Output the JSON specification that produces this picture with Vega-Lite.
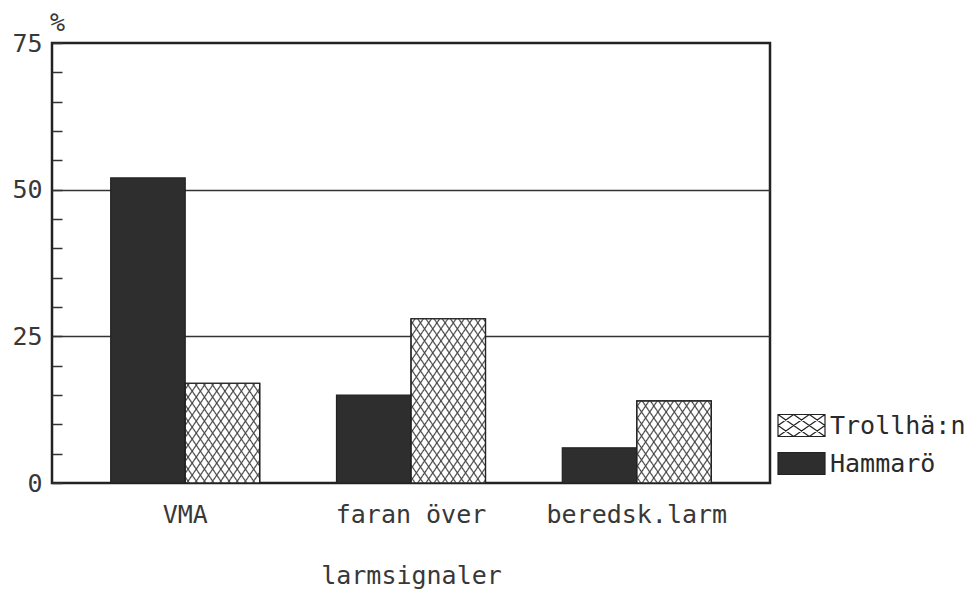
{
  "$schema": "https://vega.github.io/schema/vega-lite/v6.json",
  "width": 718,
  "height": 440,
  "autosize": {"type": "none"},
  "padding": {"left": 52, "top": 43, "right": 201, "bottom": 110},
  "background": "white",
  "config": {
    "view": {"stroke": "#222", "strokeWidth": 2.5},
    "font": "DejaVu Sans Mono"
  },
  "data": {
    "values": [
      {"larm": "VMA", "ort": "Hammarö", "procent": 52},
      {"larm": "VMA", "ort": "Trollhä:n", "procent": 17},
      {"larm": "faran över", "ort": "Hammarö", "procent": 15},
      {"larm": "faran över", "ort": "Trollhä:n", "procent": 28},
      {"larm": "beredsk.larm", "ort": "Hammarö", "procent": 6},
      {"larm": "beredsk.larm", "ort": "Trollhä:n", "procent": 14}
    ]
  },
  "encoding": {
    "x": {
      "field": "larm",
      "type": "nominal",
      "sort": ["VMA", "faran över", "beredsk.larm"],
      "scale": {"paddingInner": 0.34, "paddingOuter": 0.26},
      "axis": {
        "title": "larmsignaler",
        "labelAngle": 0,
        "labelLimit": 0,
        "ticks": false,
        "domain": false,
        "labelFont": "DejaVu Sans Mono",
        "labelFontSize": 25,
        "labelColor": "#383838",
        "labelPadding": 19,
        "titleFont": "DejaVu Sans Mono",
        "titleFontSize": 25,
        "titleFontWeight": "normal",
        "titleColor": "#383838",
        "titlePadding": 36
      }
    },
    "xOffset": {
      "field": "ort",
      "type": "nominal",
      "scale": {"domain": ["Hammarö", "Trollhä:n"], "paddingInner": 0, "paddingOuter": 0}
    },
    "y": {
      "field": "procent",
      "type": "quantitative",
      "scale": {"domain": [0, 75], "nice": false, "zero": true},
      "axis": {
        "title": "%",
        "titleAngle": 0,
        "titleX": 5,
        "titleY": -21,
        "titleAlign": "center",
        "titleBaseline": "middle",
        "titleFont": "DejaVu Sans Mono",
        "titleFontSize": 25,
        "titleFontWeight": "normal",
        "titleColor": "#383838",
        "values": [0, 5, 10, 15, 20, 25, 30, 35, 40, 45, 50, 55, 60, 65, 70, 75],
        "labelExpr": "datum.value % 25 === 0 ? datum.label : ''",
        "labelOverlap": false,
        "labelFlush": false,
        "tickSize": -10,
        "tickColor": "#333",
        "tickWidth": 1.5,
        "domain": false,
        "grid": true,
        "gridColor": "#333",
        "gridWidth": 1.3,
        "gridOpacity": {"condition": {"test": "datum.value === 25 || datum.value === 50", "value": 1}, "value": 0},
        "labelFont": "DejaVu Sans Mono",
        "labelFontSize": 25,
        "labelColor": "#383838",
        "labelPadding": 20
      }
    }
  },
  "layer": [
    {
      "mark": {"type": "bar", "stroke": "#222", "strokeWidth": 1.2},
      "encoding": {
        "fill": {
          "field": "ort",
          "type": "nominal",
          "scale": {"domain": ["Trollhä:n", "Hammarö"], "range": ["#ffffff", "#2e2e2e"]},
          "legend": {
            "title": null,
            "orient": "none",
            "legendX": 727,
            "legendY": 360,
            "padding": 0,
            "symbolSize": 1849,
            "symbolType": "M-1.093,-0.512H1.093V0.512H-1.093Z",
            "symbolStrokeColor": "#222",
            "symbolStrokeWidth": 1.2,
            "symbolOpacity": 1,
            "labelFont": "DejaVu Sans Mono",
            "labelFontSize": 25,
            "labelColor": "#2a2a2a",
            "labelOffset": 6,
            "labelLimit": 0,
            "rowPadding": 2,
            "encode": {
              "symbols": {
                "update": {
                  "shape": {"signal": "datum.value === 'Hammarö' ? 'M-1.093,-0.512H1.093V0.512H-1.093Z' : 'M-1.093,-0.512H1.093V0.512H-1.093Z M-1.093,0L-0.364,-0.512 M-1.093,0.512L0.365,-0.512 M-0.364,0.512L1.093,-0.512 M0.365,0.512L1.093,0 M1.093,0L0.364,-0.512 M1.093,0.512L-0.365,-0.512 M0.364,0.512L-1.093,-0.512 M-0.365,0.512L-1.093,0'"}
                }
              }
            }
          }
        }
      }
    },
    {
      "transform": [{"filter": "datum.ort === 'Trollhä:n'"}],
      "mark": {"type": "bar"},
      "encoding": {
        "fill": {
          "condition": [
            {"test": "datum.larm === 'VMA'", "value": {"gradient": "linear", "x1": 0, "y1": 0, "x2": 1.4382, "y2": 1.3157, "stops": [{"offset":0.0138,"color":"rgba(68,68,68,0)"},{"offset":0.0208,"color":"#444"},{"offset":0.0279,"color":"rgba(68,68,68,0)"},{"offset":0.0554,"color":"rgba(68,68,68,0)"},{"offset":0.0625,"color":"#444"},{"offset":0.0696,"color":"rgba(68,68,68,0)"},{"offset":0.0971,"color":"rgba(68,68,68,0)"},{"offset":0.1042,"color":"#444"},{"offset":0.1113,"color":"rgba(68,68,68,0)"},{"offset":0.1388,"color":"rgba(68,68,68,0)"},{"offset":0.1458,"color":"#444"},{"offset":0.1529,"color":"rgba(68,68,68,0)"},{"offset":0.1804,"color":"rgba(68,68,68,0)"},{"offset":0.1875,"color":"#444"},{"offset":0.1946,"color":"rgba(68,68,68,0)"},{"offset":0.2221,"color":"rgba(68,68,68,0)"},{"offset":0.2292,"color":"#444"},{"offset":0.2363,"color":"rgba(68,68,68,0)"},{"offset":0.2638,"color":"rgba(68,68,68,0)"},{"offset":0.2708,"color":"#444"},{"offset":0.2779,"color":"rgba(68,68,68,0)"},{"offset":0.3054,"color":"rgba(68,68,68,0)"},{"offset":0.3125,"color":"#444"},{"offset":0.3196,"color":"rgba(68,68,68,0)"},{"offset":0.3471,"color":"rgba(68,68,68,0)"},{"offset":0.3542,"color":"#444"},{"offset":0.3613,"color":"rgba(68,68,68,0)"},{"offset":0.3888,"color":"rgba(68,68,68,0)"},{"offset":0.3958,"color":"#444"},{"offset":0.4029,"color":"rgba(68,68,68,0)"},{"offset":0.4304,"color":"rgba(68,68,68,0)"},{"offset":0.4375,"color":"#444"},{"offset":0.4446,"color":"rgba(68,68,68,0)"},{"offset":0.4721,"color":"rgba(68,68,68,0)"},{"offset":0.4792,"color":"#444"},{"offset":0.4863,"color":"rgba(68,68,68,0)"},{"offset":0.5138,"color":"rgba(68,68,68,0)"},{"offset":0.5208,"color":"#444"},{"offset":0.5279,"color":"rgba(68,68,68,0)"},{"offset":0.5554,"color":"rgba(68,68,68,0)"},{"offset":0.5625,"color":"#444"},{"offset":0.5696,"color":"rgba(68,68,68,0)"},{"offset":0.5971,"color":"rgba(68,68,68,0)"},{"offset":0.6042,"color":"#444"},{"offset":0.6113,"color":"rgba(68,68,68,0)"},{"offset":0.6388,"color":"rgba(68,68,68,0)"},{"offset":0.6458,"color":"#444"},{"offset":0.6529,"color":"rgba(68,68,68,0)"},{"offset":0.6804,"color":"rgba(68,68,68,0)"},{"offset":0.6875,"color":"#444"},{"offset":0.6946,"color":"rgba(68,68,68,0)"},{"offset":0.7221,"color":"rgba(68,68,68,0)"},{"offset":0.7292,"color":"#444"},{"offset":0.7363,"color":"rgba(68,68,68,0)"},{"offset":0.7638,"color":"rgba(68,68,68,0)"},{"offset":0.7708,"color":"#444"},{"offset":0.7779,"color":"rgba(68,68,68,0)"},{"offset":0.8054,"color":"rgba(68,68,68,0)"},{"offset":0.8125,"color":"#444"},{"offset":0.8196,"color":"rgba(68,68,68,0)"},{"offset":0.8471,"color":"rgba(68,68,68,0)"},{"offset":0.8542,"color":"#444"},{"offset":0.8613,"color":"rgba(68,68,68,0)"},{"offset":0.8888,"color":"rgba(68,68,68,0)"},{"offset":0.8958,"color":"#444"},{"offset":0.9029,"color":"rgba(68,68,68,0)"},{"offset":0.9304,"color":"rgba(68,68,68,0)"},{"offset":0.9375,"color":"#444"},{"offset":0.9446,"color":"rgba(68,68,68,0)"},{"offset":0.9721,"color":"rgba(68,68,68,0)"},{"offset":0.9792,"color":"#444"},{"offset":0.9863,"color":"rgba(68,68,68,0)"}]}},
            {"test": "datum.larm === 'faran över'", "value": {"gradient": "linear", "x1": 0, "y1": 0, "x2": 0.8078, "y2": 1.2171, "stops": [{"offset":0.0138,"color":"rgba(68,68,68,0)"},{"offset":0.0208,"color":"#444"},{"offset":0.0279,"color":"rgba(68,68,68,0)"},{"offset":0.0554,"color":"rgba(68,68,68,0)"},{"offset":0.0625,"color":"#444"},{"offset":0.0696,"color":"rgba(68,68,68,0)"},{"offset":0.0971,"color":"rgba(68,68,68,0)"},{"offset":0.1042,"color":"#444"},{"offset":0.1113,"color":"rgba(68,68,68,0)"},{"offset":0.1388,"color":"rgba(68,68,68,0)"},{"offset":0.1458,"color":"#444"},{"offset":0.1529,"color":"rgba(68,68,68,0)"},{"offset":0.1804,"color":"rgba(68,68,68,0)"},{"offset":0.1875,"color":"#444"},{"offset":0.1946,"color":"rgba(68,68,68,0)"},{"offset":0.2221,"color":"rgba(68,68,68,0)"},{"offset":0.2292,"color":"#444"},{"offset":0.2363,"color":"rgba(68,68,68,0)"},{"offset":0.2638,"color":"rgba(68,68,68,0)"},{"offset":0.2708,"color":"#444"},{"offset":0.2779,"color":"rgba(68,68,68,0)"},{"offset":0.3054,"color":"rgba(68,68,68,0)"},{"offset":0.3125,"color":"#444"},{"offset":0.3196,"color":"rgba(68,68,68,0)"},{"offset":0.3471,"color":"rgba(68,68,68,0)"},{"offset":0.3542,"color":"#444"},{"offset":0.3613,"color":"rgba(68,68,68,0)"},{"offset":0.3888,"color":"rgba(68,68,68,0)"},{"offset":0.3958,"color":"#444"},{"offset":0.4029,"color":"rgba(68,68,68,0)"},{"offset":0.4304,"color":"rgba(68,68,68,0)"},{"offset":0.4375,"color":"#444"},{"offset":0.4446,"color":"rgba(68,68,68,0)"},{"offset":0.4721,"color":"rgba(68,68,68,0)"},{"offset":0.4792,"color":"#444"},{"offset":0.4863,"color":"rgba(68,68,68,0)"},{"offset":0.5138,"color":"rgba(68,68,68,0)"},{"offset":0.5208,"color":"#444"},{"offset":0.5279,"color":"rgba(68,68,68,0)"},{"offset":0.5554,"color":"rgba(68,68,68,0)"},{"offset":0.5625,"color":"#444"},{"offset":0.5696,"color":"rgba(68,68,68,0)"},{"offset":0.5971,"color":"rgba(68,68,68,0)"},{"offset":0.6042,"color":"#444"},{"offset":0.6113,"color":"rgba(68,68,68,0)"},{"offset":0.6388,"color":"rgba(68,68,68,0)"},{"offset":0.6458,"color":"#444"},{"offset":0.6529,"color":"rgba(68,68,68,0)"},{"offset":0.6804,"color":"rgba(68,68,68,0)"},{"offset":0.6875,"color":"#444"},{"offset":0.6946,"color":"rgba(68,68,68,0)"},{"offset":0.7221,"color":"rgba(68,68,68,0)"},{"offset":0.7292,"color":"#444"},{"offset":0.7363,"color":"rgba(68,68,68,0)"},{"offset":0.7638,"color":"rgba(68,68,68,0)"},{"offset":0.7708,"color":"#444"},{"offset":0.7779,"color":"rgba(68,68,68,0)"},{"offset":0.8054,"color":"rgba(68,68,68,0)"},{"offset":0.8125,"color":"#444"},{"offset":0.8196,"color":"rgba(68,68,68,0)"},{"offset":0.8471,"color":"rgba(68,68,68,0)"},{"offset":0.8542,"color":"#444"},{"offset":0.8613,"color":"rgba(68,68,68,0)"},{"offset":0.8888,"color":"rgba(68,68,68,0)"},{"offset":0.8958,"color":"#444"},{"offset":0.9029,"color":"rgba(68,68,68,0)"},{"offset":0.9304,"color":"rgba(68,68,68,0)"},{"offset":0.9375,"color":"#444"},{"offset":0.9446,"color":"rgba(68,68,68,0)"},{"offset":0.9721,"color":"rgba(68,68,68,0)"},{"offset":0.9792,"color":"#444"},{"offset":0.9863,"color":"rgba(68,68,68,0)"}]}}
          ],
          "value": {"gradient": "linear", "x1": 0, "y1": 0, "x2": 1.6852, "y2": 1.2695, "stops": [{"offset":0.0138,"color":"rgba(68,68,68,0)"},{"offset":0.0208,"color":"#444"},{"offset":0.0279,"color":"rgba(68,68,68,0)"},{"offset":0.0554,"color":"rgba(68,68,68,0)"},{"offset":0.0625,"color":"#444"},{"offset":0.0696,"color":"rgba(68,68,68,0)"},{"offset":0.0971,"color":"rgba(68,68,68,0)"},{"offset":0.1042,"color":"#444"},{"offset":0.1113,"color":"rgba(68,68,68,0)"},{"offset":0.1388,"color":"rgba(68,68,68,0)"},{"offset":0.1458,"color":"#444"},{"offset":0.1529,"color":"rgba(68,68,68,0)"},{"offset":0.1804,"color":"rgba(68,68,68,0)"},{"offset":0.1875,"color":"#444"},{"offset":0.1946,"color":"rgba(68,68,68,0)"},{"offset":0.2221,"color":"rgba(68,68,68,0)"},{"offset":0.2292,"color":"#444"},{"offset":0.2363,"color":"rgba(68,68,68,0)"},{"offset":0.2638,"color":"rgba(68,68,68,0)"},{"offset":0.2708,"color":"#444"},{"offset":0.2779,"color":"rgba(68,68,68,0)"},{"offset":0.3054,"color":"rgba(68,68,68,0)"},{"offset":0.3125,"color":"#444"},{"offset":0.3196,"color":"rgba(68,68,68,0)"},{"offset":0.3471,"color":"rgba(68,68,68,0)"},{"offset":0.3542,"color":"#444"},{"offset":0.3613,"color":"rgba(68,68,68,0)"},{"offset":0.3888,"color":"rgba(68,68,68,0)"},{"offset":0.3958,"color":"#444"},{"offset":0.4029,"color":"rgba(68,68,68,0)"},{"offset":0.4304,"color":"rgba(68,68,68,0)"},{"offset":0.4375,"color":"#444"},{"offset":0.4446,"color":"rgba(68,68,68,0)"},{"offset":0.4721,"color":"rgba(68,68,68,0)"},{"offset":0.4792,"color":"#444"},{"offset":0.4863,"color":"rgba(68,68,68,0)"},{"offset":0.5138,"color":"rgba(68,68,68,0)"},{"offset":0.5208,"color":"#444"},{"offset":0.5279,"color":"rgba(68,68,68,0)"},{"offset":0.5554,"color":"rgba(68,68,68,0)"},{"offset":0.5625,"color":"#444"},{"offset":0.5696,"color":"rgba(68,68,68,0)"},{"offset":0.5971,"color":"rgba(68,68,68,0)"},{"offset":0.6042,"color":"#444"},{"offset":0.6113,"color":"rgba(68,68,68,0)"},{"offset":0.6388,"color":"rgba(68,68,68,0)"},{"offset":0.6458,"color":"#444"},{"offset":0.6529,"color":"rgba(68,68,68,0)"},{"offset":0.6804,"color":"rgba(68,68,68,0)"},{"offset":0.6875,"color":"#444"},{"offset":0.6946,"color":"rgba(68,68,68,0)"},{"offset":0.7221,"color":"rgba(68,68,68,0)"},{"offset":0.7292,"color":"#444"},{"offset":0.7363,"color":"rgba(68,68,68,0)"},{"offset":0.7638,"color":"rgba(68,68,68,0)"},{"offset":0.7708,"color":"#444"},{"offset":0.7779,"color":"rgba(68,68,68,0)"},{"offset":0.8054,"color":"rgba(68,68,68,0)"},{"offset":0.8125,"color":"#444"},{"offset":0.8196,"color":"rgba(68,68,68,0)"},{"offset":0.8471,"color":"rgba(68,68,68,0)"},{"offset":0.8542,"color":"#444"},{"offset":0.8613,"color":"rgba(68,68,68,0)"},{"offset":0.8888,"color":"rgba(68,68,68,0)"},{"offset":0.8958,"color":"#444"},{"offset":0.9029,"color":"rgba(68,68,68,0)"},{"offset":0.9304,"color":"rgba(68,68,68,0)"},{"offset":0.9375,"color":"#444"},{"offset":0.9446,"color":"rgba(68,68,68,0)"},{"offset":0.9721,"color":"rgba(68,68,68,0)"},{"offset":0.9792,"color":"#444"},{"offset":0.9863,"color":"rgba(68,68,68,0)"}]}
        }
      }
    },
    {
      "transform": [{"filter": "datum.ort === 'Trollhä:n'"}],
      "mark": {"type": "bar", "stroke": "#222", "strokeWidth": 1.2},
      "encoding": {
        "fill": {
          "condition": [
            {"test": "datum.larm === 'VMA'", "value": {"gradient": "linear", "x1": 0, "y1": 1, "x2": 1.4382, "y2": -0.3157, "stops": [{"offset":0.0138,"color":"rgba(68,68,68,0)"},{"offset":0.0208,"color":"#444"},{"offset":0.0279,"color":"rgba(68,68,68,0)"},{"offset":0.0554,"color":"rgba(68,68,68,0)"},{"offset":0.0625,"color":"#444"},{"offset":0.0696,"color":"rgba(68,68,68,0)"},{"offset":0.0971,"color":"rgba(68,68,68,0)"},{"offset":0.1042,"color":"#444"},{"offset":0.1113,"color":"rgba(68,68,68,0)"},{"offset":0.1388,"color":"rgba(68,68,68,0)"},{"offset":0.1458,"color":"#444"},{"offset":0.1529,"color":"rgba(68,68,68,0)"},{"offset":0.1804,"color":"rgba(68,68,68,0)"},{"offset":0.1875,"color":"#444"},{"offset":0.1946,"color":"rgba(68,68,68,0)"},{"offset":0.2221,"color":"rgba(68,68,68,0)"},{"offset":0.2292,"color":"#444"},{"offset":0.2363,"color":"rgba(68,68,68,0)"},{"offset":0.2638,"color":"rgba(68,68,68,0)"},{"offset":0.2708,"color":"#444"},{"offset":0.2779,"color":"rgba(68,68,68,0)"},{"offset":0.3054,"color":"rgba(68,68,68,0)"},{"offset":0.3125,"color":"#444"},{"offset":0.3196,"color":"rgba(68,68,68,0)"},{"offset":0.3471,"color":"rgba(68,68,68,0)"},{"offset":0.3542,"color":"#444"},{"offset":0.3613,"color":"rgba(68,68,68,0)"},{"offset":0.3888,"color":"rgba(68,68,68,0)"},{"offset":0.3958,"color":"#444"},{"offset":0.4029,"color":"rgba(68,68,68,0)"},{"offset":0.4304,"color":"rgba(68,68,68,0)"},{"offset":0.4375,"color":"#444"},{"offset":0.4446,"color":"rgba(68,68,68,0)"},{"offset":0.4721,"color":"rgba(68,68,68,0)"},{"offset":0.4792,"color":"#444"},{"offset":0.4863,"color":"rgba(68,68,68,0)"},{"offset":0.5138,"color":"rgba(68,68,68,0)"},{"offset":0.5208,"color":"#444"},{"offset":0.5279,"color":"rgba(68,68,68,0)"},{"offset":0.5554,"color":"rgba(68,68,68,0)"},{"offset":0.5625,"color":"#444"},{"offset":0.5696,"color":"rgba(68,68,68,0)"},{"offset":0.5971,"color":"rgba(68,68,68,0)"},{"offset":0.6042,"color":"#444"},{"offset":0.6113,"color":"rgba(68,68,68,0)"},{"offset":0.6388,"color":"rgba(68,68,68,0)"},{"offset":0.6458,"color":"#444"},{"offset":0.6529,"color":"rgba(68,68,68,0)"},{"offset":0.6804,"color":"rgba(68,68,68,0)"},{"offset":0.6875,"color":"#444"},{"offset":0.6946,"color":"rgba(68,68,68,0)"},{"offset":0.7221,"color":"rgba(68,68,68,0)"},{"offset":0.7292,"color":"#444"},{"offset":0.7363,"color":"rgba(68,68,68,0)"},{"offset":0.7638,"color":"rgba(68,68,68,0)"},{"offset":0.7708,"color":"#444"},{"offset":0.7779,"color":"rgba(68,68,68,0)"},{"offset":0.8054,"color":"rgba(68,68,68,0)"},{"offset":0.8125,"color":"#444"},{"offset":0.8196,"color":"rgba(68,68,68,0)"},{"offset":0.8471,"color":"rgba(68,68,68,0)"},{"offset":0.8542,"color":"#444"},{"offset":0.8613,"color":"rgba(68,68,68,0)"},{"offset":0.8888,"color":"rgba(68,68,68,0)"},{"offset":0.8958,"color":"#444"},{"offset":0.9029,"color":"rgba(68,68,68,0)"},{"offset":0.9304,"color":"rgba(68,68,68,0)"},{"offset":0.9375,"color":"#444"},{"offset":0.9446,"color":"rgba(68,68,68,0)"},{"offset":0.9721,"color":"rgba(68,68,68,0)"},{"offset":0.9792,"color":"#444"},{"offset":0.9863,"color":"rgba(68,68,68,0)"}]}},
            {"test": "datum.larm === 'faran över'", "value": {"gradient": "linear", "x1": 0, "y1": 1, "x2": 0.8078, "y2": -0.2171, "stops": [{"offset":0.0138,"color":"rgba(68,68,68,0)"},{"offset":0.0208,"color":"#444"},{"offset":0.0279,"color":"rgba(68,68,68,0)"},{"offset":0.0554,"color":"rgba(68,68,68,0)"},{"offset":0.0625,"color":"#444"},{"offset":0.0696,"color":"rgba(68,68,68,0)"},{"offset":0.0971,"color":"rgba(68,68,68,0)"},{"offset":0.1042,"color":"#444"},{"offset":0.1113,"color":"rgba(68,68,68,0)"},{"offset":0.1388,"color":"rgba(68,68,68,0)"},{"offset":0.1458,"color":"#444"},{"offset":0.1529,"color":"rgba(68,68,68,0)"},{"offset":0.1804,"color":"rgba(68,68,68,0)"},{"offset":0.1875,"color":"#444"},{"offset":0.1946,"color":"rgba(68,68,68,0)"},{"offset":0.2221,"color":"rgba(68,68,68,0)"},{"offset":0.2292,"color":"#444"},{"offset":0.2363,"color":"rgba(68,68,68,0)"},{"offset":0.2638,"color":"rgba(68,68,68,0)"},{"offset":0.2708,"color":"#444"},{"offset":0.2779,"color":"rgba(68,68,68,0)"},{"offset":0.3054,"color":"rgba(68,68,68,0)"},{"offset":0.3125,"color":"#444"},{"offset":0.3196,"color":"rgba(68,68,68,0)"},{"offset":0.3471,"color":"rgba(68,68,68,0)"},{"offset":0.3542,"color":"#444"},{"offset":0.3613,"color":"rgba(68,68,68,0)"},{"offset":0.3888,"color":"rgba(68,68,68,0)"},{"offset":0.3958,"color":"#444"},{"offset":0.4029,"color":"rgba(68,68,68,0)"},{"offset":0.4304,"color":"rgba(68,68,68,0)"},{"offset":0.4375,"color":"#444"},{"offset":0.4446,"color":"rgba(68,68,68,0)"},{"offset":0.4721,"color":"rgba(68,68,68,0)"},{"offset":0.4792,"color":"#444"},{"offset":0.4863,"color":"rgba(68,68,68,0)"},{"offset":0.5138,"color":"rgba(68,68,68,0)"},{"offset":0.5208,"color":"#444"},{"offset":0.5279,"color":"rgba(68,68,68,0)"},{"offset":0.5554,"color":"rgba(68,68,68,0)"},{"offset":0.5625,"color":"#444"},{"offset":0.5696,"color":"rgba(68,68,68,0)"},{"offset":0.5971,"color":"rgba(68,68,68,0)"},{"offset":0.6042,"color":"#444"},{"offset":0.6113,"color":"rgba(68,68,68,0)"},{"offset":0.6388,"color":"rgba(68,68,68,0)"},{"offset":0.6458,"color":"#444"},{"offset":0.6529,"color":"rgba(68,68,68,0)"},{"offset":0.6804,"color":"rgba(68,68,68,0)"},{"offset":0.6875,"color":"#444"},{"offset":0.6946,"color":"rgba(68,68,68,0)"},{"offset":0.7221,"color":"rgba(68,68,68,0)"},{"offset":0.7292,"color":"#444"},{"offset":0.7363,"color":"rgba(68,68,68,0)"},{"offset":0.7638,"color":"rgba(68,68,68,0)"},{"offset":0.7708,"color":"#444"},{"offset":0.7779,"color":"rgba(68,68,68,0)"},{"offset":0.8054,"color":"rgba(68,68,68,0)"},{"offset":0.8125,"color":"#444"},{"offset":0.8196,"color":"rgba(68,68,68,0)"},{"offset":0.8471,"color":"rgba(68,68,68,0)"},{"offset":0.8542,"color":"#444"},{"offset":0.8613,"color":"rgba(68,68,68,0)"},{"offset":0.8888,"color":"rgba(68,68,68,0)"},{"offset":0.8958,"color":"#444"},{"offset":0.9029,"color":"rgba(68,68,68,0)"},{"offset":0.9304,"color":"rgba(68,68,68,0)"},{"offset":0.9375,"color":"#444"},{"offset":0.9446,"color":"rgba(68,68,68,0)"},{"offset":0.9721,"color":"rgba(68,68,68,0)"},{"offset":0.9792,"color":"#444"},{"offset":0.9863,"color":"rgba(68,68,68,0)"}]}}
          ],
          "value": {"gradient": "linear", "x1": 0, "y1": 1, "x2": 1.6852, "y2": -0.2695, "stops": [{"offset":0.0138,"color":"rgba(68,68,68,0)"},{"offset":0.0208,"color":"#444"},{"offset":0.0279,"color":"rgba(68,68,68,0)"},{"offset":0.0554,"color":"rgba(68,68,68,0)"},{"offset":0.0625,"color":"#444"},{"offset":0.0696,"color":"rgba(68,68,68,0)"},{"offset":0.0971,"color":"rgba(68,68,68,0)"},{"offset":0.1042,"color":"#444"},{"offset":0.1113,"color":"rgba(68,68,68,0)"},{"offset":0.1388,"color":"rgba(68,68,68,0)"},{"offset":0.1458,"color":"#444"},{"offset":0.1529,"color":"rgba(68,68,68,0)"},{"offset":0.1804,"color":"rgba(68,68,68,0)"},{"offset":0.1875,"color":"#444"},{"offset":0.1946,"color":"rgba(68,68,68,0)"},{"offset":0.2221,"color":"rgba(68,68,68,0)"},{"offset":0.2292,"color":"#444"},{"offset":0.2363,"color":"rgba(68,68,68,0)"},{"offset":0.2638,"color":"rgba(68,68,68,0)"},{"offset":0.2708,"color":"#444"},{"offset":0.2779,"color":"rgba(68,68,68,0)"},{"offset":0.3054,"color":"rgba(68,68,68,0)"},{"offset":0.3125,"color":"#444"},{"offset":0.3196,"color":"rgba(68,68,68,0)"},{"offset":0.3471,"color":"rgba(68,68,68,0)"},{"offset":0.3542,"color":"#444"},{"offset":0.3613,"color":"rgba(68,68,68,0)"},{"offset":0.3888,"color":"rgba(68,68,68,0)"},{"offset":0.3958,"color":"#444"},{"offset":0.4029,"color":"rgba(68,68,68,0)"},{"offset":0.4304,"color":"rgba(68,68,68,0)"},{"offset":0.4375,"color":"#444"},{"offset":0.4446,"color":"rgba(68,68,68,0)"},{"offset":0.4721,"color":"rgba(68,68,68,0)"},{"offset":0.4792,"color":"#444"},{"offset":0.4863,"color":"rgba(68,68,68,0)"},{"offset":0.5138,"color":"rgba(68,68,68,0)"},{"offset":0.5208,"color":"#444"},{"offset":0.5279,"color":"rgba(68,68,68,0)"},{"offset":0.5554,"color":"rgba(68,68,68,0)"},{"offset":0.5625,"color":"#444"},{"offset":0.5696,"color":"rgba(68,68,68,0)"},{"offset":0.5971,"color":"rgba(68,68,68,0)"},{"offset":0.6042,"color":"#444"},{"offset":0.6113,"color":"rgba(68,68,68,0)"},{"offset":0.6388,"color":"rgba(68,68,68,0)"},{"offset":0.6458,"color":"#444"},{"offset":0.6529,"color":"rgba(68,68,68,0)"},{"offset":0.6804,"color":"rgba(68,68,68,0)"},{"offset":0.6875,"color":"#444"},{"offset":0.6946,"color":"rgba(68,68,68,0)"},{"offset":0.7221,"color":"rgba(68,68,68,0)"},{"offset":0.7292,"color":"#444"},{"offset":0.7363,"color":"rgba(68,68,68,0)"},{"offset":0.7638,"color":"rgba(68,68,68,0)"},{"offset":0.7708,"color":"#444"},{"offset":0.7779,"color":"rgba(68,68,68,0)"},{"offset":0.8054,"color":"rgba(68,68,68,0)"},{"offset":0.8125,"color":"#444"},{"offset":0.8196,"color":"rgba(68,68,68,0)"},{"offset":0.8471,"color":"rgba(68,68,68,0)"},{"offset":0.8542,"color":"#444"},{"offset":0.8613,"color":"rgba(68,68,68,0)"},{"offset":0.8888,"color":"rgba(68,68,68,0)"},{"offset":0.8958,"color":"#444"},{"offset":0.9029,"color":"rgba(68,68,68,0)"},{"offset":0.9304,"color":"rgba(68,68,68,0)"},{"offset":0.9375,"color":"#444"},{"offset":0.9446,"color":"rgba(68,68,68,0)"},{"offset":0.9721,"color":"rgba(68,68,68,0)"},{"offset":0.9792,"color":"#444"},{"offset":0.9863,"color":"rgba(68,68,68,0)"}]}
        }
      }
    }
  ]
}
